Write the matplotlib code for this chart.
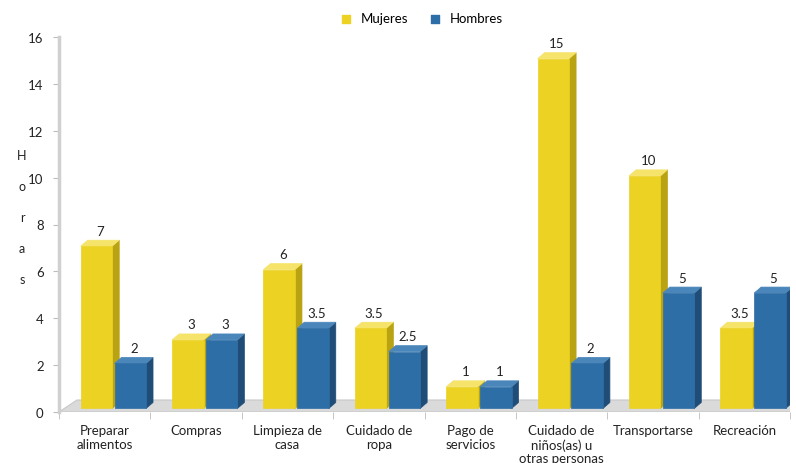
import matplotlib.pyplot as plt
from matplotlib.patches import Polygon, Rectangle
import numpy as np

categories = ["Preparar\nalimentos", "Compras", "Limpieza de\ncasa", "Cuidado de\nropa",
              "Pago de\nservicios", "Cuidado de\nniños(as) u\notras personas",
              "Transportarse", "Recreación"]
mujeres = [7, 3, 6, 3.5, 1, 15, 10, 3.5]
hombres = [2, 3, 3.5, 2.5, 1, 2, 5, 5]
mujeres_lbl = ["7", "3", "6", "3.5", "1", "15", "10", "3.5"]
hombres_lbl = ["2", "3", "3.5", "2.5", "1", "2", "5", "5"]
yticks = [0, 2, 4, 6, 8, 10, 12, 14, 16]

plt.rcParams['font.family'] = ['Lato', 'DejaVu Sans']

W, H = 796, 464
fig = plt.figure(figsize=(W / 100, H / 100), dpi=100)
left, right, bottom, top = 59, 790, 413, 38
ax = fig.add_axes([left / W, 1 - bottom / H, (right - left) / W, (bottom - top) / H])
ax.set_xlim(-0.5, 7.5)
ax.set_ylim(0, 16)

# pixel -> data conversion for the depth effect
px_x = (right - left) / 8.0
px_y = (bottom - top) / 16.0
ddx, ddy = 7 / px_x, 6 / px_y      # bar depth
fdx, fdy = 18 / px_x, 12 / px_y    # floor depth
base = 0.15

# floor
ax.add_patch(Polygon([(-0.5, 0), (7.5 + 0.1, 0), (7.5 + 0.1 + fdx, fdy), (-0.5 + fdx, fdy)],
                     closed=True, facecolor="#dadada", edgecolor="#c8c8c8", lw=0.8, zorder=1))

width = 0.345
series = [
    (mujeres, mujeres_lbl, -0.09, "#ebd223", "#b9a313", "#f5e36a", "Mujeres"),
    (hombres, hombres_lbl, 0.28, "#2e6ea6", "#1f4d78", "#4b86ba", "Hombres"),
]
x = np.arange(len(categories))
for vals, lbls, off, cf, cs, ct, name in series:
    for xi, v, lb in zip(x, vals, lbls):
        x0 = xi + off - width / 2
        x1 = x0 + width
        y0 = base
        y1 = v + base * 0.5
        z = 3 if off < 0 else 4
        # side face
        ax.add_patch(Polygon([(x1, y0), (x1 + ddx, y0 + ddy), (x1 + ddx, y1 + ddy), (x1, y1)],
                             closed=True, facecolor=cs, edgecolor=cs, lw=0.5, zorder=z))
        # top face
        ax.add_patch(Polygon([(x0, y1), (x1, y1), (x1 + ddx, y1 + ddy), (x0 + ddx, y1 + ddy)],
                             closed=True, facecolor=ct, edgecolor=ct, lw=0.5, zorder=z))
        # front face
        ax.add_patch(Rectangle((x0, y0), width, y1 - y0, facecolor=cf, edgecolor=cf,
                               lw=0.5, zorder=z))
        ax.text(xi + off + ddx / 2, y1 + ddy + 0.15, lb, ha="center", va="bottom",
                fontsize=9.5, color="#222222", zorder=6)

# legend proxies
for _, _, _, cf, _, _, name in series:
    ax.scatter([], [], marker="s", s=30, color=cf, label=name)
fig.legend(loc="upper center", bbox_to_anchor=(0.525, 1.0), ncol=2, frameon=False,
           fontsize=9.5, handletextpad=0.1, columnspacing=1.0, borderaxespad=0.6)

ax.set_yticks(yticks)
ax.set_yticklabels([str(t) for t in yticks], fontsize=9.5, color="#222222")
ax.set_xticks(x)
ax.set_xticklabels(categories, fontsize=9.5, color="#222222", linespacing=1.15)
ax.set_xticks(np.arange(-0.5, 8.0, 1.0), minor=True)
ax.tick_params(axis="x", which="major", length=0, pad=9)
ax.tick_params(axis="x", which="minor", length=5, color="#bdbdbd")
ax.tick_params(axis="y", length=4, color="#bdbdbd", pad=7)

for s in ["top", "right", "bottom"]:
    ax.spines[s].set_visible(False)
ax.spines["left"].set_color("#d0d0d0")
ax.spines["left"].set_linewidth(2.5)

fig.text(22 / W, 1 - 218 / H, "H\no\nr\na\ns", ha="center", va="center",
         fontsize=9, linespacing=2.9, color="#222222")

fig.savefig("out.png", dpi=100)
